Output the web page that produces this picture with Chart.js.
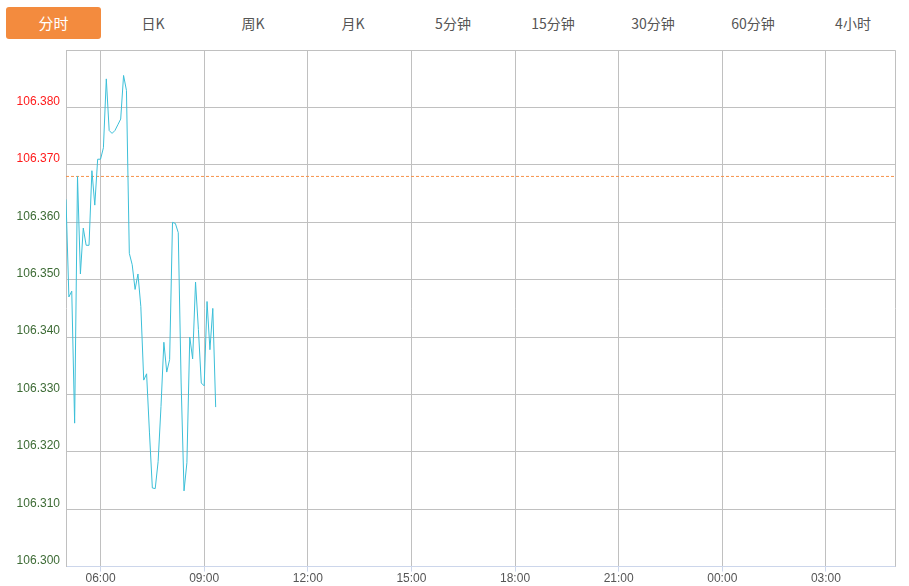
<!DOCTYPE html>
<html>
<head>
<meta charset="utf-8">
<script src="https://cdn.jsdelivr.net/npm/chart.js@4/dist/chart.umd.min.js"></script>
<style>
  html, body { margin: 0; padding: 0; background: #fff; }
  body { width: 909px; height: 586px; position: relative; overflow: hidden; font-family: "Noto Sans CJK SC", "Noto Sans", sans-serif; }
  .tab { position: absolute; top: 7px; height: 32px; line-height: 32px; width: 100px; text-align: center; font-size: 14px; color: #555; }
  .tab.active { background: #f38b3e; color: #fff; border-radius: 3px; width: 95px; font-size: 15px; }
  #wrap { position: absolute; left: 0; top: 37px; width: 909px; height: 549px; }
</style>
</head>
<body>
<div id="tabs"></div>
<div id="wrap"><canvas id="c"></canvas></div>
<script>
// ---- data ----
const tabLabels = ["分时", "日K", "周K", "月K", "5分钟", "15分钟", "30分钟", "60分钟", "4小时"];
const xTickMinutes = [60, 240, 420, 600, 780, 960, 1140, 1320]; // minutes after 05:00
const xTickLabels = ["06:00", "09:00", "12:00", "15:00", "18:00", "21:00", "00:00", "03:00"];
const intervalMinutes = 5;
const prices = [
  106.364, 106.347, 106.348, 106.325, 106.368, 106.351, 106.359, 106.356, 106.356, 106.369,
  106.363, 106.371, 106.371, 106.373, 106.385, 106.376, 106.3755, 106.376, 106.377, 106.378,
  106.3856, 106.383, 106.3546, 106.3526, 106.3483, 106.351, 106.3453, 106.3325, 106.3336, 106.3233,
  106.3137, 106.3136, 106.3183, 106.3279, 106.3391, 106.3339, 106.3361, 106.360, 106.3598, 106.3582,
  106.332, 106.3132, 106.3181, 106.340, 106.3362, 106.3496, 106.3413, 106.332, 106.3315, 106.3462,
  106.3378, 106.345, 106.3278
];
const prevClose = 106.368;
const yMin = 106.300, yMax = 106.390, yStep = 0.01;

// ---- tabs ----
const tabs = document.getElementById('tabs');
tabLabels.forEach((t, i) => {
  const d = document.createElement('div');
  d.className = 'tab' + (i === 0 ? ' active' : '');
  d.textContent = t;
  d.style.left = (i === 0 ? 6 : 3 + i * 100) + 'px';
  tabs.appendChild(d);
});

// ---- chart ----
const priceData = prices.map((p, i) => ({ x: i * intervalMinutes, y: p }));
const refData = [{ x: 0, y: prevClose }, { x: 1440, y: prevClose }];

const borderPlugin = {
  id: 'borders',
  afterDraw(chart) {
    const { ctx, chartArea: a } = chart;
    ctx.save();
    ctx.strokeStyle = '#c0c0c0';
    ctx.lineWidth = 1;
    ctx.beginPath();
    ctx.moveTo(Math.round(a.right) + 0.5, a.top);
    ctx.lineTo(Math.round(a.right) + 0.5, a.bottom);
    ctx.stroke();
    ctx.restore();
  }
};

new Chart(document.getElementById('c'), {
  type: 'line',
  data: {
    datasets: [
      { data: priceData, borderColor: '#3cbfd8', borderWidth: 1, pointRadius: 0, tension: 0, fill: false },
      { data: refData, borderColor: '#f7924a', borderWidth: 1, borderDash: [3, 2], pointRadius: 0, fill: false }
    ]
  },
  options: {
    responsive: true,
    maintainAspectRatio: false,
    animation: false,
    layout: { padding: { top: 6, right: 14, left: 0, bottom: 0 } },
    plugins: { legend: { display: false }, tooltip: { enabled: false } },
    scales: {
      x: {
        type: 'linear',
        min: 0, max: 1440,
        afterBuildTicks(scale) { scale.ticks = xTickMinutes.map(v => ({ value: v })); },
        ticks: {
          autoSkip: false, maxRotation: 0, padding: 0,
          color: '#555',
          font: { family: '"Liberation Sans", Arial, sans-serif', size: 12 },
          callback(v) { const i = xTickMinutes.indexOf(v); return i >= 0 ? xTickLabels[i] : ''; }
        },
        grid: { color: '#c0c0c0', tickColor: '#ccd6eb', tickLength: 5, drawTicks: true },
        border: { display: true, color: '#ccd6eb' }
      },
      y: {
        min: yMin, max: yMax,
        afterFit(scale) { scale.width = 66; },
        ticks: {
          stepSize: yStep, padding: 6, labelOffset: -6,
          font: { family: '"Liberation Sans", Arial, sans-serif', size: 12 },
          color(ctx) { return ctx.tick.value > prevClose ? '#ff1a1a' : '#3d6b35'; },
          callback(v) { return Math.abs(v - yMax) < 1e-6 ? '' : v.toFixed(3); }
        },
        grid: { color: '#c0c0c0', drawTicks: false },
        border: { display: true, color: '#c0c0c0' }
      }
    }
  },
  plugins: [borderPlugin]
});
</script>
</body>
</html>
